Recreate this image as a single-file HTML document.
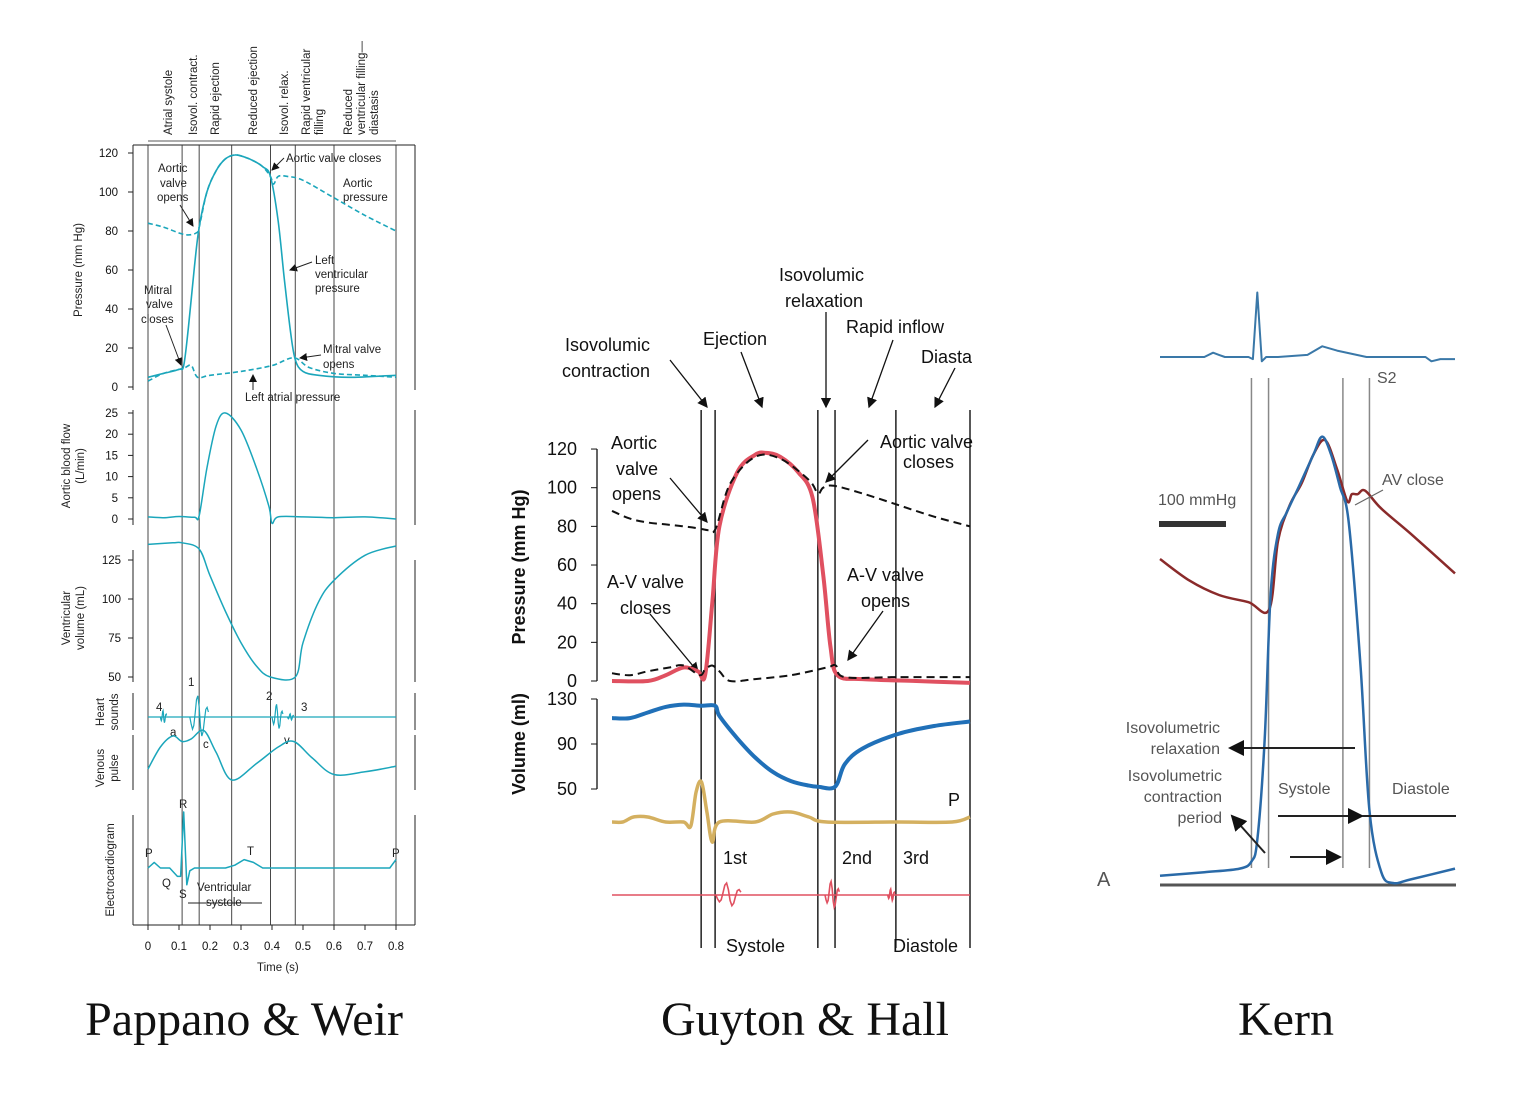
<!DOCTYPE html>
<html><head><meta charset="utf-8">
<style>
html,body{margin:0;padding:0;background:#fff;}
svg{display:block;font-family:"Liberation Sans",sans-serif;}
.ttl{font-family:"Liberation Serif",serif;font-size:48px;fill:#111;}
.s11{font-size:11.5px;fill:#222;}
.g18{font-size:18px;fill:#111;}
.k16{font-size:16px;fill:#555;}
</style></head>
<body>
<svg id="root" width="1515" height="1104" viewBox="0 0 1515 1104">
<defs>
<marker id="ah" markerWidth="8" markerHeight="8" refX="7" refY="4" orient="auto"><path d="M0,0 L8,4 L0,8 z" fill="#111"/></marker>
</defs>
<text class="ttl" x="244" y="1035" text-anchor="middle">Pappano &amp; Weir</text>
<text class="ttl" x="805" y="1035" text-anchor="middle">Guyton &amp; Hall</text>
<text class="ttl" x="1286" y="1035" text-anchor="middle">Kern</text>

<g id="p1" stroke="#222" stroke-width="1" fill="none">
  <line x1="133" y1="145" x2="415" y2="145"/>
  <line x1="133" y1="145" x2="133" y2="390"/>
  <line x1="415" y1="145" x2="415" y2="390"/>
  <line x1="133" y1="410" x2="133" y2="525"/><line x1="415" y1="410" x2="415" y2="525"/>
  <line x1="133" y1="550" x2="133" y2="682"/><line x1="415" y1="560" x2="415" y2="682"/>
  <line x1="133" y1="693" x2="133" y2="730"/><line x1="415" y1="693" x2="415" y2="730"/>
  <line x1="133" y1="735" x2="133" y2="790"/><line x1="415" y1="735" x2="415" y2="790"/>
  <line x1="133" y1="815" x2="133" y2="925"/><line x1="415" y1="815" x2="415" y2="925"/>
  <line x1="133" y1="925" x2="415" y2="925"/>
</g>
<g class="s11">
  <text transform="translate(172,135) rotate(-90)">Atrial systole</text>
  <text transform="translate(197,135) rotate(-90)">Isovol. contract.</text>
  <text transform="translate(219,135) rotate(-90)">Rapid ejection</text>
  <text transform="translate(257,135) rotate(-90)">Reduced ejection</text>
  <text transform="translate(288,135) rotate(-90)">Isovol. relax.</text>
  <text transform="translate(310,135) rotate(-90)">Rapid ventricular</text>
  <text transform="translate(323,135) rotate(-90)">filling</text>
  <text transform="translate(352,135) rotate(-90)">Reduced</text>
  <text transform="translate(365,135) rotate(-90)">ventricular filling—</text>
  <text transform="translate(378,135) rotate(-90)">diastasis</text>
  <text transform="translate(82,270) rotate(-90)" text-anchor="middle">Pressure (mm Hg)</text>
  <text transform="translate(70,466) rotate(-90)" text-anchor="middle">Aortic blood flow</text>
  <text transform="translate(84,466) rotate(-90)" text-anchor="middle">(L/min)</text>
  <text transform="translate(70,618) rotate(-90)" text-anchor="middle">Ventricular</text>
  <text transform="translate(84,618) rotate(-90)" text-anchor="middle">volume (mL)</text>
  <text transform="translate(104,712) rotate(-90)" text-anchor="middle">Heart</text>
  <text transform="translate(118,712) rotate(-90)" text-anchor="middle">sounds</text>
  <text transform="translate(104,768) rotate(-90)" text-anchor="middle">Venous</text>
  <text transform="translate(118,768) rotate(-90)" text-anchor="middle">pulse</text>
  <text transform="translate(114,870) rotate(-90)" text-anchor="middle">Electrocardiogram</text>
  <text x="158" y="172">Aortic</text><text x="160" y="187">valve</text><text x="157" y="201">opens</text>
  <text x="286" y="162">Aortic valve closes</text>
  <text x="343" y="187">Aortic</text><text x="343" y="201">pressure</text>
  <text x="315" y="264">Left</text><text x="315" y="278">ventricular</text><text x="315" y="292">pressure</text>
  <text x="144" y="294">Mitral</text><text x="146" y="308">valve</text><text x="141" y="323">closes</text>
  <text x="323" y="353">Mitral valve</text><text x="323" y="368">opens</text>
  <text x="245" y="401">Left atrial pressure</text>
  <text x="156" y="711">4</text><text x="188" y="686">1</text><text x="266" y="700">2</text><text x="301" y="711">3</text>
  <text x="170" y="736">a</text><text x="203" y="748">c</text><text x="284" y="744">v</text>
  <text x="145" y="857">P</text><text x="179" y="808">R</text><text x="247" y="855">T</text><text x="392" y="857">P</text>
  <text x="162" y="887">Q</text><text x="179" y="898">S</text>
  <text x="197" y="891">Ventricular</text><text x="206" y="906">systole</text>
  <text x="257" y="971">Time (s)</text>
</g>
<g stroke="#222" stroke-width="1">
  <line x1="180" y1="205" x2="193" y2="226" marker-end="url(#ah)"/>
  <line x1="284" y1="158" x2="272" y2="170" marker-end="url(#ah)"/>
  <line x1="312" y1="262" x2="290" y2="270" marker-end="url(#ah)"/>
  <line x1="166" y1="325" x2="181" y2="365" marker-end="url(#ah)"/>
  <line x1="321" y1="355" x2="300" y2="358" marker-end="url(#ah)"/>
  <line x1="253" y1="390" x2="253" y2="375" marker-end="url(#ah)"/>
  <line x1="188" y1="903" x2="262" y2="903"/>
</g>

<g class="g18">
  <text x="779" y="281">Isovolumic</text><text x="785" y="307">relaxation</text>
  <text x="846" y="333">Rapid inflow</text>
  <text x="703" y="345">Ejection</text>
  <text x="921" y="363">Diasta</text>
  <text x="565" y="351">Isovolumic</text><text x="562" y="377">contraction</text>
  <text x="611" y="449">Aortic</text><text x="616" y="475">valve</text><text x="612" y="500">opens</text>
  <text x="880" y="448">Aortic valve</text><text x="903" y="468">closes</text>
  <text x="607" y="588">A-V valve</text><text x="620" y="614">closes</text>
  <text x="847" y="581">A-V valve</text><text x="861" y="607">opens</text>
  <text x="948" y="806">P</text>
  <text x="723" y="864">1st</text><text x="842" y="864">2nd</text><text x="903" y="864">3rd</text>
  <text x="726" y="952">Systole</text><text x="893" y="952">Diastole</text>
  <text transform="translate(525,567) rotate(-90)" text-anchor="middle" font-weight="bold">Pressure (mm Hg)</text>
  <text transform="translate(525,744) rotate(-90)" text-anchor="middle" font-weight="bold">Volume (ml)</text>
</g>
<rect x="973" y="250" width="60" height="730" fill="#fff"/>
<g stroke="#111" stroke-width="1.3">
  <line x1="670" y1="360" x2="707" y2="407" marker-end="url(#ah)"/>
  <line x1="741" y1="352" x2="762" y2="407" marker-end="url(#ah)"/>
  <line x1="826" y1="312" x2="826" y2="407" marker-end="url(#ah)"/>
  <line x1="893" y1="340" x2="869" y2="407" marker-end="url(#ah)"/>
  <line x1="955" y1="368" x2="935" y2="407" marker-end="url(#ah)"/>
  <line x1="670" y1="478" x2="707" y2="522" marker-end="url(#ah)"/>
  <line x1="868" y1="440" x2="826" y2="482" marker-end="url(#ah)"/>
  <line x1="650" y1="614" x2="698" y2="672" marker-end="url(#ah)"/>
  <line x1="883" y1="611" x2="848" y2="660" marker-end="url(#ah)"/>
  <line x1="597" y1="449" x2="597" y2="681"/>
  <line x1="597" y1="699" x2="597" y2="789"/>
</g>

<g>
  <text x="1377" y="383" class="k16" fill="#444">S2</text>
  <text x="1382" y="485" class="k16">AV close</text>
  <text x="1158" y="505" class="k16">100 mmHg</text>
  <rect x="1159" y="521" width="67" height="6" fill="#333"/>
  <text x="1220" y="733" class="k16" text-anchor="end">Isovolumetric</text>
  <text x="1220" y="754" class="k16" text-anchor="end">relaxation</text>
  <text x="1222" y="781" class="k16" text-anchor="end">Isovolumetric</text>
  <text x="1222" y="802" class="k16" text-anchor="end">contraction</text>
  <text x="1222" y="823" class="k16" text-anchor="end">period</text>
  <text x="1278" y="794" class="k16">Systole</text>
  <text x="1392" y="794" class="k16">Diastole</text>
  <text x="1097" y="886" font-size="20" fill="#555">A</text>
</g>
<rect x="1456" y="280" width="59" height="640" fill="#fff"/>

<g id="charts"></g>
</svg>
<script>
// ===== Panel 1 (Pappano & Weir) data =====
const p1Ticks = [0,0.1,0.2,0.3,0.4,0.5,0.6,0.7,0.8];
const p1PhaseLines = [0,0.11,0.165,0.27,0.395,0.475,0.6,0.8];
const p1PressTicks = [0,20,40,60,80,100,120];
const p1FlowTicks = [0,5,10,15,20,25];
const p1VolTicks = [50,75,100,125];
const lvpT = [0,0.05,0.1,0.115,0.13,0.15,0.165,0.19,0.22,0.25,0.28,0.31,0.34,0.37,0.395,0.42,0.44,0.46,0.475,0.5,0.55,0.65,0.8];
const lvpV = [5,7,9,11,30,62,82,100,111,117,119,118,116,113,108,85,55,28,14,8,6,5,6];
const aoT = [0,0.05,0.1,0.13,0.155,0.165,0.19,0.22,0.25,0.28,0.31,0.34,0.37,0.395,0.405,0.42,0.45,0.5,0.6,0.7,0.8];
const aoV = [84,82,79,78,79,82,100,111,117,119,118,116,113,108,104,108,108,106,97,88,80];
const laT = [0,0.05,0.1,0.12,0.14,0.16,0.2,0.3,0.4,0.47,0.52,0.6,0.7,0.8];
const laV = [3,7,9,10,11,5,6,8,11,15,10,7,6,5];
const flowT = [0,0.05,0.1,0.15,0.165,0.19,0.22,0.25,0.3,0.35,0.39,0.4,0.42,0.5,0.6,0.7,0.8];
const flowV = [0.5,0.3,0.6,0.4,0.8,12,22,25,21,12,3,-1,0.5,0.5,0.3,0.5,0];
const volT = [0,0.08,0.11,0.165,0.2,0.25,0.3,0.35,0.395,0.475,0.5,0.55,0.6,0.7,0.8];
const volV = [135,136,136,132,115,92,72,57,50,50,72,98,112,128,134];
const venT = [0,0.04,0.08,0.11,0.14,0.18,0.22,0.27,0.35,0.42,0.47,0.53,0.6,0.7,0.8];
const venV = [2,6,8,7,7.5,9,5,0,3,6,7,4,1,1.5,2.5];
const ecgT = [0,0.02,0.04,0.07,0.095,0.105,0.115,0.125,0.135,0.15,0.25,0.28,0.31,0.34,0.37,0.5,0.78,0.8];
const ecgV = [0,2,0,0,-3,-3,20,-6,-1,0,0,1,3,2,0,0,0,3];
const soundT = [0.04,0.135,0.4,0.45];
const soundDur = [0.02,0.06,0.035,0.02];
const soundAmp = [3,10,6,1.5];

// ===== Panel 2 (Guyton & Hall) data =====
const g2PressTicks = [0,20,40,60,80,100,120];
const g2VolTicks = [50,90,130];
const g2PhaseLines = [0.249,0.288,0.575,0.623,0.793,1];
const g2LvpT = [0,0.1,0.15,0.2,0.24,0.26,0.28,0.3,0.35,0.4,0.43,0.47,0.52,0.56,0.59,0.61,0.63,0.7,0.85,1];
const g2LvpV = [0,0,3,7,5,3,40,80,108,117,118,116,108,95,55,18,3,1,0,-1];
const g2AoT = [0,0.05,0.1,0.15,0.2,0.24,0.27,0.29,0.33,0.4,0.47,0.55,0.575,0.59,0.62,0.7,0.8,0.9,1];
const g2AoV = [88,84,82,81,80,79,78,79,102,116,115,104,97,100,101,97,91,85,80];
const g2LaT = [0,0.05,0.1,0.16,0.2,0.245,0.26,0.28,0.3,0.33,0.4,0.5,0.6,0.625,0.65,0.8,1];
const g2LaV = [4,3,5,7,8,3,6,8,5,0,1,3,7,8,2,2,2];
const g2VolT = [0,0.05,0.1,0.15,0.2,0.25,0.288,0.3,0.35,0.4,0.45,0.5,0.55,0.575,0.623,0.65,0.7,0.8,0.9,1];
const g2VolV = [113,113,118,123,125,124,124,115,95,78,65,57,53,52,52,72,86,99,106,110];
const g2VenT = [0,0.03,0.06,0.1,0.15,0.2,0.22,0.235,0.25,0.265,0.28,0.3,0.4,0.45,0.5,0.55,0.6,0.8,0.95,1];
const g2VenV = [0,0,5,5,0,0,-4,30,40,10,-20,0,0,8,10,5,0,0,0,5];
const g2SoundT = [0.29,0.595,0.77];
const g2SoundDur = [0.07,0.04,0.02];
const g2SoundAmp = [14,16,7];

// ===== Panel 3 (Kern) data =====
const kLvT = [0,0.15,0.27,0.31,0.33,0.355,0.375,0.4,0.43,0.47,0.52,0.55,0.58,0.61,0.64,0.68,0.71,0.75,0.79,0.85,1];
const kLvV = [2,3,4,6,12,40,80,97,103,110,119,124,119,110,100,60,20,3,0,1,4];
const kAoT = [0,0.1,0.2,0.3,0.37,0.4,0.44,0.48,0.52,0.56,0.6,0.635,0.65,0.67,0.695,0.75,0.85,1];
const kAoV = [90,84,80,78,76,95,105,111,119,123,115,106,108,108,109,104,97,86];
const kEcgT = [0,0.15,0.18,0.2,0.22,0.3,0.315,0.33,0.345,0.36,0.4,0.5,0.55,0.6,0.7,0.9,0.92,0.95,1];
const kEcgV = [0,0,2,1,0,0,-1,30,-2,0,0,1,5,3,0,0,-2,-1,-1];
const kPhaseLines = [0.31,0.368,0.62,0.71];

const NS = 'http://www.w3.org/2000/svg';
const root = document.getElementById('charts');
function mk(tag, attrs){const e=document.createElementNS(NS,tag);for(const k in attrs)e.setAttribute(k,attrs[k]);root.appendChild(e);return e;}
function dPath(T,V,sx,sy,smooth){
  const P=T.map((t,i)=>[sx(t),sy(V[i])]);
  if(!smooth) return P.map((p,i)=>(i?'L':'M')+p[0].toFixed(1)+','+p[1].toFixed(1)).join(' ');
  let d='M'+P[0][0].toFixed(1)+','+P[0][1].toFixed(1);
  for(let i=0;i<P.length-1;i++){
    const p0=P[Math.max(0,i-1)],p1=P[i],p2=P[i+1],p3=P[Math.min(P.length-1,i+2)];
    const c1=[p1[0]+(p2[0]-p0[0])/6,p1[1]+(p2[1]-p0[1])/6];
    const c2=[p2[0]-(p3[0]-p1[0])/6,p2[1]-(p3[1]-p1[1])/6];
    d+=' C'+c1[0].toFixed(1)+','+c1[1].toFixed(1)+' '+c2[0].toFixed(1)+','+c2[1].toFixed(1)+' '+p2[0].toFixed(1)+','+p2[1].toFixed(1);
  }
  return d;
}
function curve(T,V,sx,sy,stroke,w,dash,name,smooth){
  const e=mk('path',{d:dPath(T,V,sx,sy,smooth!==false),fill:'none',stroke:stroke,'stroke-width':w,'stroke-linejoin':'round','stroke-dasharray':dash||'none'});
  
  
  return e;
}
function sounds(TS,DS,AS,sx,y0,scale,stroke,w,name){
  let d='';
  TS.forEach((t0,j)=>{const n=14;for(let i=0;i<=n;i++){const t=t0+DS[j]*i/n;const a=AS[j]*scale*Math.sin(i*2.3)*(i%2?1:-1)*(1-Math.abs(i-n/2)/(n*0.7));d+=(i?'L':'M')+sx(t).toFixed(1)+','+(y0+a).toFixed(1)+' ';}});
  const e=mk('path',{d:d,fill:'none',stroke:stroke,'stroke-width':w});
  
  
}
function vline(x,y1,y2,stroke,w,name){
  const e=mk('line',{x1:x,x2:x,y1:y1,y2:y2,stroke:stroke,'stroke-width':w});
  
  
}
function label(x,y,txt,anchor,size,name){
  const e=mk('text',{x:x,y:y,'text-anchor':anchor,'font-size':size,fill:'#111'});
  e.textContent=txt;
  
  
}

const C1='#1ba6bb';
const x1=t=>148+t*310;
const yP=p=>387-p*1.95;
const yF=f=>519-f*4.24;
const yVol=v=>677-(v-50)*1.56;
const yVen=v=>780-v*5.5;
const yEcg=v=>868-v*2.8;
p1PhaseLines.forEach(t=>vline(x1(t),145,925,'#333',0.9,'phase-line'));
p1Ticks.forEach(t=>{vline(x1(t),925,930,'#222',1,'x-tick');label(x1(t),950,String(t),'middle',11.5,'x-tick-label');});
p1PressTicks.forEach(p=>{mk('line',{x1:128,x2:133,y1:yP(p),y2:yP(p),stroke:'#222'});label(118,yP(p)+4,String(p),'end',11.5,'pressure-tick-label');});
p1FlowTicks.forEach(f=>{mk('line',{x1:128,x2:133,y1:yF(f),y2:yF(f),stroke:'#222'});label(118,yF(f)+4,String(f),'end',11.5,'flow-tick-label');});
p1VolTicks.forEach(v=>{mk('line',{x1:128,x2:133,y1:yVol(v),y2:yVol(v),stroke:'#222'});label(121,yVol(v)+4,String(v),'end',11.5,'volume-tick-label');});
mk('line',{x1:148,x2:396,y1:141,y2:141,stroke:'#222','stroke-width':0.8});
curve(aoT,aoV,x1,yP,C1,1.6,'5,3','aortic-pressure');
curve(laT,laV,x1,yP,C1,1.6,'5,3','left-atrial-pressure');
curve(lvpT,lvpV,x1,yP,C1,1.6,null,'left-ventricular-pressure');
curve(flowT,flowV,x1,yF,C1,1.5,null,'aortic-blood-flow');
curve(volT,volV,x1,yVol,C1,1.5,null,'ventricular-volume');
mk('line',{x1:148,x2:396,y1:717,y2:717,stroke:C1,'stroke-width':1.2});
sounds(soundT,soundDur,soundAmp,x1,717,2.5,C1,1.2,'heart-sounds');
curve(venT,venV,x1,yVen,C1,1.5,null,'venous-pulse');
curve(ecgT,ecgV,x1,yEcg,C1,1.5,null,'electrocardiogram',false);

const x2=t=>612+t*358;
const gP=p=>681-p*1.933;
const gV=v=>789-(v-50)*1.125;
g2PhaseLines.forEach(t=>vline(x2(t),410,948,'#111',1.4,'phase-line'));
g2PressTicks.forEach(p=>{mk('line',{x1:591,x2:597,y1:gP(p),y2:gP(p),stroke:'#111'});label(577,gP(p)+6,String(p),'end',18,'pressure-tick-label');});
g2VolTicks.forEach(v=>{mk('line',{x1:591,x2:597,y1:gV(v),y2:gV(v),stroke:'#111'});label(577,gV(v)+6,String(v),'end',18,'volume-tick-label');});
curve(g2LvpT,g2LvpV,x2,gP,'#e05060',4,null,'left-ventricular-pressure');
curve(g2AoT,g2AoV,x2,gP,'#111',2,'8,5','aortic-pressure');
curve(g2LaT,g2LaV,x2,gP,'#111',2,'8,5','atrial-pressure');
curve(g2VolT,g2VolV,x2,gV,'#2070b8',4,null,'ventricular-volume');
curve(g2VenT,g2VenV,x2,v=>822-v,'#d4b060',3.5,null,'venous-pulse');
mk('line',{x1:612,x2:970,y1:895,y2:895,stroke:'#e05060','stroke-width':1.5});
sounds(g2SoundT,g2SoundDur,g2SoundAmp,x2,895,1,'#e05060',1.6,'phonocardiogram');

const x3=t=>1160+t*295;
const kP=p=>883-p*3.6;
kPhaseLines.forEach(t=>vline(x3(t),378,868,'#888',1.5,'phase-line'));
mk('line',{x1:1160,x2:1456,y1:885,y2:885,stroke:'#555','stroke-width':3});
curve(kEcgT,kEcgV,x3,v=>357-v*2.15,'#3a78a8',2,null,'ecg-trace',false);
curve(kAoT,kAoV,x3,kP,'#8a2a2a',2.5,null,'aortic-pressure');
curve(kLvT,kLvV,x3,kP,'#2a6aa8',2.5,null,'lv-pressure');
const a1=mk('line',{x1:1355,y1:748,x2:1230,y2:748,stroke:'#222','stroke-width':2,'marker-end':'url(#ah)'});


const a2=mk('line',{x1:1265,y1:853,x2:1232,y2:816,stroke:'#222','stroke-width':2,'marker-end':'url(#ah)'});


const a3=mk('line',{x1:1278,y1:816,x2:1362,y2:816,stroke:'#222','stroke-width':2,'marker-end':'url(#ah)'});


mk('line',{x1:1362,x2:1456,y1:816,y2:816,stroke:'#222','stroke-width':2});
const a4=mk('line',{x1:1290,y1:857,x2:1340,y2:857,stroke:'#222','stroke-width':2,'marker-end':'url(#ah)'});


const a5=mk('line',{x1:1383,y1:490,x2:1355,y2:505,stroke:'#666','stroke-width':1.2});


</script>
</body></html>
